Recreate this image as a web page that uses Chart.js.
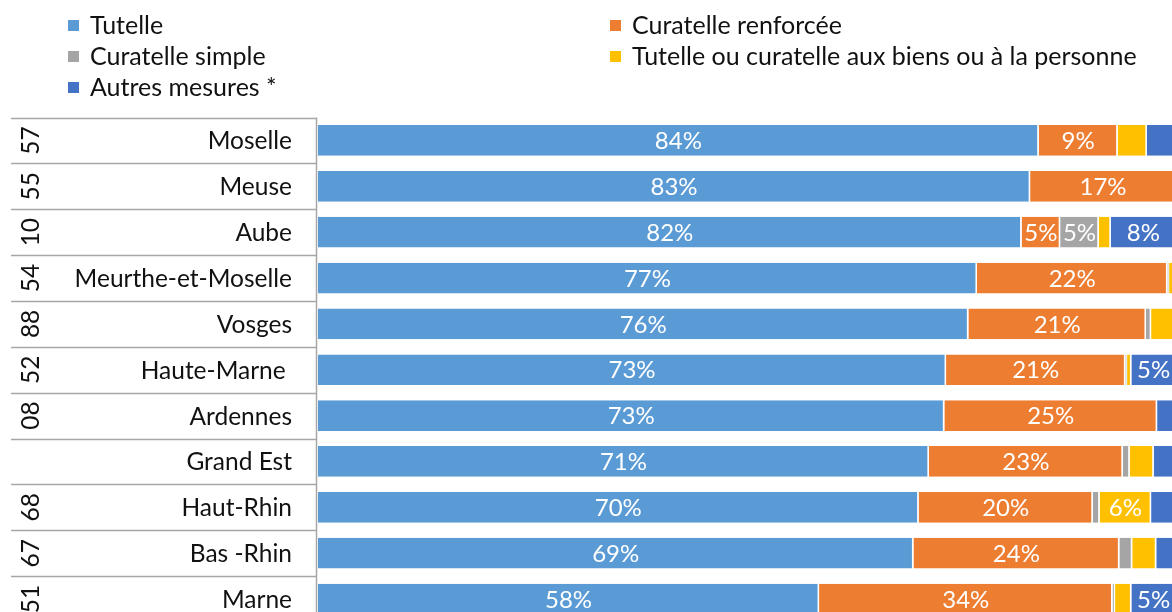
<!DOCTYPE html>
<html>
<head>
<meta charset="utf-8">
<script src="https://cdn.jsdelivr.net/npm/chart.js@4.4.1/dist/chart.umd.min.js"></script>
<style>
  html, body { margin: 0; padding: 0; background: #fff; overflow: hidden; }
  #wrap { position: relative; width: 1180px; height: 630px; }
</style>
</head>
<body>
<div id="wrap"><canvas id="measuresChart"></canvas></div>
<script>
// departments, top to bottom
const categories = ["Moselle", "Meuse", "Aube", "Meurthe-et-Moselle", "Vosges", "Haute-Marne ", "Ardennes", "Grand Est", "Haut-Rhin", "Bas -Rhin", "Marne"];
const deptCodes = ["57", "55", "10", "54", "88", "52", "08", "", "68", "67", "51"];

// share of each measure, in %
const tutelle      = [84.0, 83.0, 82.0, 76.8, 75.8, 73.2, 73.0, 71.2, 70.0, 69.4, 58.4];
const curRenforcee = [9.2, 17.0, 4.5, 22.2, 20.7, 20.9, 24.8, 22.6, 20.3, 24.0, 34.2];
const curSimple    = [0.0, 0.0, 4.5, 0.2, 0.6, 0.2, 0.0, 0.8, 0.8, 1.5, 0.3];
const tutCurBiens  = [3.4, 0.0, 1.4, 0.8, 2.9, 0.5, 0.0, 2.8, 6.0, 2.8, 1.9];
const autres       = [3.4, 0.0, 7.6, 0.0, 0.0, 5.2, 2.2, 2.6, 2.9, 2.3, 5.2];

const seriesNames = ["Tutelle", "Curatelle renforcée", "Curatelle simple", "Tutelle ou curatelle aux biens ou à la personne", "Autres mesures *"];
const seriesColors = ["#5B9BD5", "#ED7D31", "#A5A5A5", "#FFC000", "#4472C4"];
const seriesData = [tutelle, curRenforcee, curSimple, tutCurBiens, autres];

const FONT = "Lato, 'Open Sans', sans-serif";
const LINE = "#a6a6a6";

// legend, left table, and % labels drawn on top of the chart
const decorPlugin = {
  id: "decor",
  afterDatasetsDraw(chart) {
    const ctx = chart.ctx;
    const area = chart.chartArea;
    const yScale = chart.scales.y;

    ctx.save();
    // % labels inside bars
    ctx.fillStyle = "#fff";
    ctx.font = "24px " + FONT;
    ctx.textAlign = "center";
    ctx.textBaseline = "middle";
    chart.data.datasets.forEach((ds, di) => {
      const meta = chart.getDatasetMeta(di);
      meta.data.forEach((bar, i) => {
        const v = ds.data[i];
        if (v < 4) return;
        ctx.fillText(Math.round(v) + "%", (bar.x + bar.base) / 2, bar.y + 1);
      });
    });

    // legend, two columns like Excel
    const legendPos = [[68, 25], [610, 25], [68, 56], [610, 56], [68, 87]];
    ctx.textAlign = "left";
    ctx.font = "25px " + FONT;
    chart.data.datasets.forEach((ds, di) => {
      const [lx, ly] = legendPos[di];
      ctx.fillStyle = ds.backgroundColor;
      ctx.fillRect(lx, ly - 5, 11, 11);
      ctx.fillStyle = "#111";
      ctx.fillText(ds.label, lx + 22, ly + 1);
    });

    // category table on the left
    const band = (yScale.getPixelForValue(1) - yScale.getPixelForValue(0));
    ctx.strokeStyle = LINE;
    ctx.lineWidth = 1.5;
    ctx.beginPath();
    for (let i = 0; i <= categories.length; i++) {
      const y = Math.round(yScale.getPixelForValue(i) - band / 2) + 0.5;
      ctx.moveTo(11, y); ctx.lineTo(area.left - 2, y);
    }
    ctx.moveTo(area.left - 1.5, area.top); ctx.lineTo(area.left - 1.5, area.bottom);
    ctx.stroke();

    ctx.fillStyle = "#111";
    ctx.font = "24.5px " + FONT;
    categories.forEach((name, i) => {
      const y = yScale.getPixelForValue(i);
      ctx.textAlign = "right";
      ctx.fillText(name, 292, y + 1);
      if (deptCodes[i]) {
        ctx.save();
        ctx.translate(31, y);
        ctx.rotate(-Math.PI / 2);
        ctx.textAlign = "center";
        ctx.fillText(deptCodes[i], 0, 0);
        ctx.restore();
      }
    });
    ctx.restore();
  }
};

const ctx = document.getElementById("measuresChart");
const data = {
  labels: categories,
  datasets: seriesData.map((d, k) => ({
    label: seriesNames[k],
    data: d,
    backgroundColor: seriesColors[k],
    borderColor: "#fff",
    borderWidth: {left: 0, right: 1.5, top: 0, bottom: 0},
    borderSkipped: false,
    barPercentage: 0.67,
    categoryPercentage: 1.0,
  })),
};
const options = {
  indexAxis: "y",
  responsive: true,
  maintainAspectRatio: false,
  animation: false,
  layout: { padding: { left: 318, top: 117.5, right: 4, bottom: 8 } },
  scales: {
    x: { stacked: true, min: 0, max: 100, display: false },
    y: { stacked: true, display: false },
  },
  plugins: {
    legend: { display: false },
    tooltip: { enabled: false },
  },
};
new Chart(ctx, { type: "bar", data: data, options: options, plugins: [decorPlugin] });
</script>
</body>
</html>
